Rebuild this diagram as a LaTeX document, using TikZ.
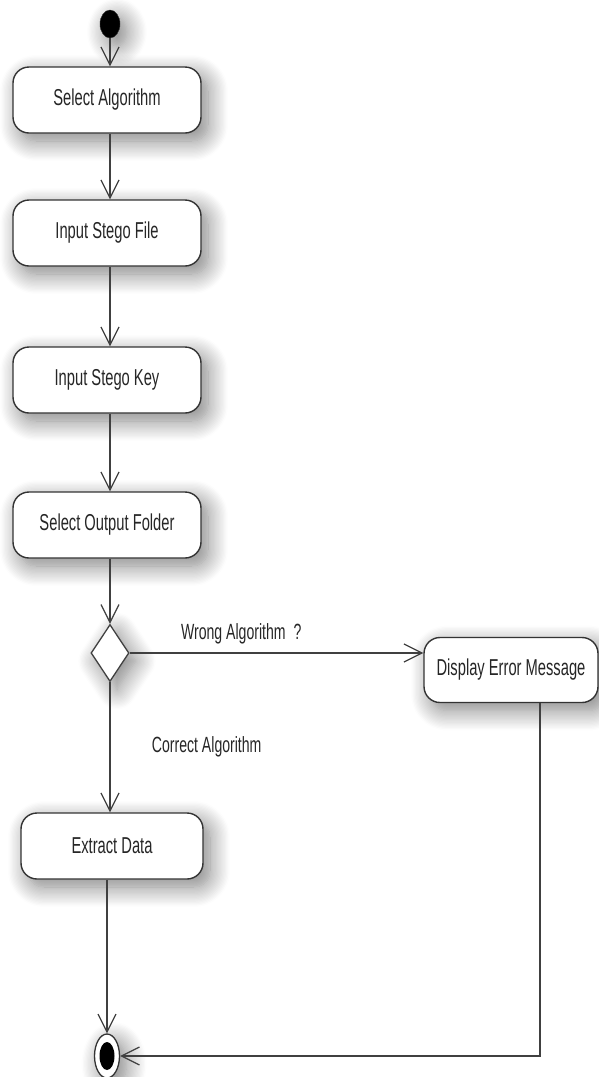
\documentclass[tikz,border=0pt]{standalone}
\usepackage{fontspec}
\setmainfont{Liberation Sans}[FakeStretch=0.64]
\usetikzlibrary{arrows.meta,shapes.geometric,shadows.blur}
\begin{document}
\begin{tikzpicture}[x=1pt,y=-1pt,
  every node/.style={font=\fontsize{23}{27}\selectfont, text=black!85},
  softshadow/.style={blur shadow={shadow xshift=7pt,shadow yshift=-8pt,
      shadow blur radius=20pt,shadow blur steps=16,shadow opacity=50}},
  action/.style={draw=black!80, line width=1.4pt, fill=white,
      rounded corners=16pt, minimum width=188pt, minimum height=66pt,
      inner sep=0pt, softshadow},
  decision/.style={diamond, draw=black!75, line width=1.3pt, fill=white,
      minimum width=38pt, minimum height=57pt, inner sep=0pt, softshadow},
  initial/.style={ellipse, fill=black, draw=black!80, minimum width=20pt,
      minimum height=28pt, inner sep=0pt, softshadow},
  finalouter/.style={ellipse, fill=white, draw=black!80, line width=1.3pt,
      minimum width=25pt, minimum height=44pt, inner sep=0pt, softshadow},
  finalinner/.style={ellipse, fill=black, minimum width=15pt,
      minimum height=28pt, inner sep=0pt},
  flow/.style={draw=black!75, line width=1.2pt,
      -{Straight Barb[length=18pt,width=18pt]}},
  guard/.style={font=\fontsize{22}{26}\selectfont}
]
\useasboundingbox (0,0) rectangle (598,1077);

% activity nodes
\node[initial] (start) at (110,24) {};
\node[action] (sa)  at (107,100) {Select Algorithm};
\node[action] (isf) at (107,233) {Input Stego File};
\node[action] (isk) at (107,380) {Input Stego Key};
\node[action] (sof) at (107,525) {Select Output Folder};
\node[decision] (dec) at (110,653) {};
\node[action, minimum width=174pt, minimum height=65pt] (dem) at (511,670) {Display Error Message};
\node[action, minimum width=182pt, minimum height=66pt] (ed) at (112,846) {Extract Data};
\node[finalouter] (endn) at (107,1056) {};
\node[finalinner] (endc) at (endn) {};

% control flow
\draw[flow] (start) -- (start |- sa.north);
\draw[flow] (sa.south -| start) -- (start |- isf.north);
\draw[flow] (isf.south -| start) -- (start |- isk.north);
\draw[flow] (isk.south -| start) -- (start |- sof.north);
\draw[flow] (sof.south -| start) -- (dec.north);
\draw[flow] (dec.east) -- (dec.east -| dem.west)
  node[guard, pos=0.38, above=5pt] {Wrong Algorithm\ \ ?};
\draw[flow] (dec.south) -- (dec.south |- ed.north)
  node[guard, pos=0.5, right=38pt] {Correct Algorithm};
\draw[flow] (ed.south -| endn) -- (endn.north);
\draw[flow] ([xshift=29pt]dem.south) |- (endn.east);
\end{tikzpicture}
\end{document}
